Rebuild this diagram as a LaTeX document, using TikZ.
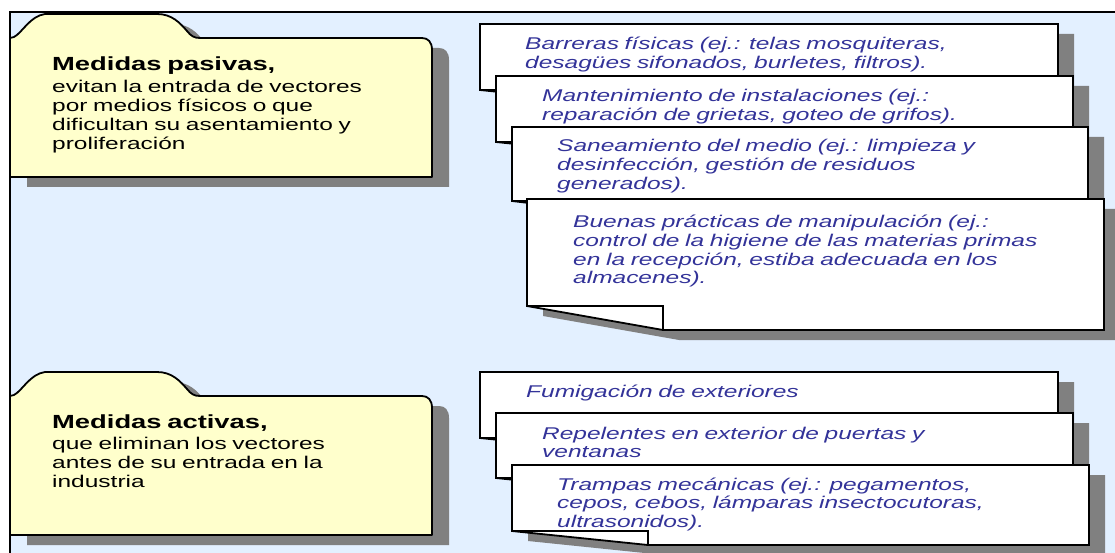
\documentclass[tikz,border=0pt]{standalone}
\usepackage{fontspec}
\newfontfamily\diagfont[FakeStretch=1.44]{Liberation Sans}
\definecolor{bgblue}{RGB}{227,240,255}
\definecolor{folderyellow}{RGB}{255,255,204}
\definecolor{shadowgrey}{RGB}{128,128,128}
\definecolor{cardblue}{RGB}{51,51,153}
\newcommand\pagecard[5]{%
  \fill[shadowgrey] (#1+16,#2+10) -- (#3+16,#2+10) -- (#3+16,#5+10) -- (#1+152,#5+10) -- (#1+16,#4+10) -- cycle;
  \filldraw[cardpage] (#1,#2) -- (#3,#2) -- (#3,#5) -- (#1+136,#5) -- (#1,#4) -- cycle;
  \draw[cardline] (#1,#4) -- (#1+136,#4) -- (#1+136,#5);
}
\begin{document}
\begin{tikzpicture}[x=1pt,y=-1pt,
  cardpage/.style={fill=white,draw=black,line width=1.8pt,line join=miter},
  cardline/.style={draw=black,line width=1.8pt},
  foldershape/.style={fill=folderyellow,draw=black,line width=1.8pt,line join=round},
  cardtext/.style={font=\diagfont\itshape\fontsize{17}{18.7}\selectfont,text=cardblue,
    text width=560pt,align=left,inner sep=0pt,anchor=base west},
  foldertext/.style={font=\diagfont\fontsize{17}{19}\selectfont,text=black,
    text width=400pt,align=left,inner sep=0pt,anchor=base west},
  folder/.pic={
    \fill[shadowgrey,shift={(17,10)}] (0,0) -- (4,-1) .. controls (12,-5) and (20,-22) .. (35,-24) -- (147,-24) .. controls (162,-24) and (170,-15) .. (177,-7) .. controls (181,-2) and (184,0) .. (190,0) -- (412,0) .. controls (418,0) and (422,4) .. (422,12) -- (422,139) -- (0,139) -- cycle;
    \filldraw[foldershape] (0,0) -- (4,-1) .. controls (12,-5) and (20,-22) .. (35,-24) -- (147,-24) .. controls (162,-24) and (170,-15) .. (177,-7) .. controls (181,-2) and (184,0) .. (190,0) -- (412,0) .. controls (418,0) and (422,4) .. (422,12) -- (422,139) -- (0,139) -- cycle;
  }]
\useasboundingbox (0,0) rectangle (1115,553);
\clip (0,0) rectangle (1115,553);
\fill[white] (0,0) rectangle (1115,553);
% frame
\fill[bgblue] (10,12) rectangle (1140,580);
\draw[line width=2pt] (10,580) -- (10,12) -- (1140,12);

% folders
\pic (fpas) at (10,38) {folder};
\node[foldertext] (tpas) at (52,71) {{\bfseries\fontsize{19}{19}\selectfont Medidas pasivas,}\\[2.5pt]
evitan la entrada de vectores\\por medios físicos o que\\dificultan su asentamiento y\\proliferación};

\pic (fact) at (10,396) {folder};
\node[foldertext] (tact) at (52,428) {{\bfseries\fontsize{19}{19}\selectfont Medidas activas,}\\[2.5pt]
que eliminan los vectores\\antes de su entrada en la\\industria};

% passive cards
\pagecard{480}{24}{1058}{90}{104}
\node[cardtext] (ca) at (525,50) {Barreras físicas (ej.: telas mosquiteras,\\desagües sifonados, burletes, filtros).};
\pagecard{496}{76}{1073}{142}{156}
\node[cardtext] (cb) at (542,102) {Mantenimiento de instalaciones (ej.:\\reparación de grietas, goteo de grifos).};
\pagecard{512}{127}{1088}{201}{217}
\node[cardtext] (cc) at (557,152) {Saneamiento del medio (ej.: limpieza y\\desinfección, gestión de residuos\\generados).};
\pagecard{527}{199}{1104}{306}{330}
\node[cardtext] (cd) at (573,227.6) {Buenas prácticas de manipulación (ej.:\\control de la higiene de las materias primas\\en la recepción, estiba adecuada en los\\almacenes).};

% active cards
\pagecard{480}{372}{1058}{438}{452}
\node[cardtext] (ce) at (526,397) {Fumigación de exteriores};
\pagecard{496}{413}{1073}{478}{492}
\node[cardtext] (cf) at (542,439) {Repelentes en exterior de puertas y\\ventanas};
\pagecard{512}{465}{1089}{531}{545}
\node[cardtext] (cg) at (557,490) {Trampas mecánicas (ej.: pegamentos,\\cepos, cebos, lámparas insectocutoras,\\ultrasonidos).};
\end{tikzpicture}
\end{document}
